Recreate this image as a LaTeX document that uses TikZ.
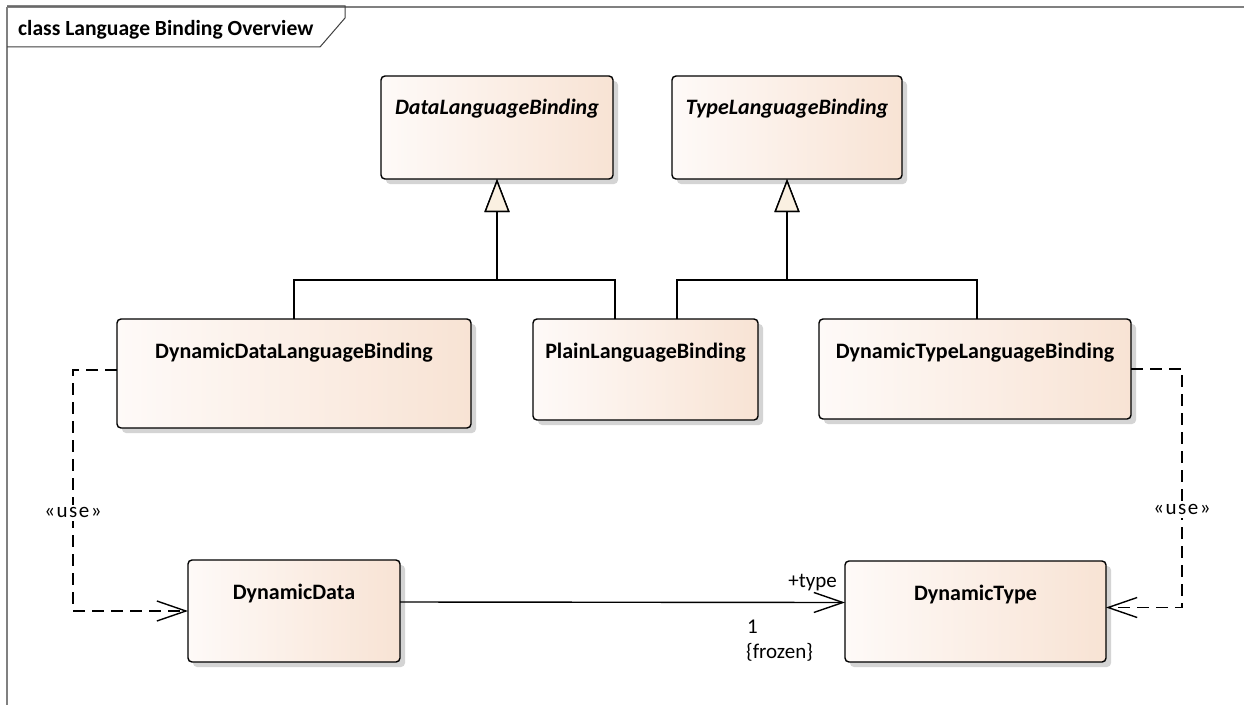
\documentclass[tikz,border=0pt]{standalone}
\usepackage{fontspec}
\setmainfont{Carlito}
\usetikzlibrary{arrows.meta,shadows,calc}
\definecolor{boxL}{HTML}{FEFAF8}
\definecolor{boxR}{HTML}{F8E3D4}
\definecolor{genfill}{HTML}{FAF0E1}
\definecolor{framegray}{HTML}{808080}
\begin{document}
\begin{tikzpicture}[x=1pt,y=-1pt,
  umlbox/.style={draw=black, line width=1.4pt, rounded corners=4pt,
    left color=boxL, right color=boxR, inner sep=0pt, outer sep=0pt,
    drop shadow={shadow xshift=5pt, shadow yshift=-5pt, fill=black!17, opacity=1}},
  boxtext/.style={anchor=base, inner sep=0pt, font=\fontsize{22}{26}\selectfont\bfseries},
  lbl/.style={inner sep=0pt, font=\fontsize{21}{25}\selectfont},
  gen/.style={line width=1.4pt, -{Triangle[length=33pt,width=25pt,fill=genfill]}},
  usedep/.style={line width=1.4pt, dash pattern=on 12pt off 7pt, -{Straight Barb[length=29pt,width=20pt]}},
  assoc/.style={line width=1.4pt, -{Straight Barb[length=29pt,width=20pt]}},
  framel/.style={draw=framegray, line width=2pt},
  titlel/.style={draw=black!75, line width=1pt}
]
\useasboundingbox (0,0) rectangle (1244,706);
\fill[white] (0,0) rectangle (1244,706);

% frame
\draw[framel] (7,7) -- (1244,7);
\draw[framel] (7,7) -- (7,705);
\draw[titlel] (7,6) -- (345,6) -- (345,18) -- (320,47) -- (7,47);
\node[anchor=base west, inner sep=0pt, font=\fontsize{21.6}{25}\selectfont\bfseries] (title) at (18,36) {class Language Binding Overview};

% boxes
\node[umlbox, minimum width=232pt, minimum height=103pt] (dlb) at (497,127.5) {};
\node[umlbox, minimum width=230pt, minimum height=103pt] (tlb) at (787,127.5) {};
\node[umlbox, minimum width=354pt, minimum height=109pt] (ddlb) at (294,373.5) {};
\node[umlbox, minimum width=225pt, minimum height=101pt] (plb) at (645.5,369.5) {};
\node[umlbox, minimum width=312pt, minimum height=100pt] (dtlb) at (975,369) {};
\node[umlbox, minimum width=212pt, minimum height=102pt] (dd) at (294,611) {};
\node[umlbox, minimum width=261pt, minimum height=101pt] (dt) at (975.5,611.5) {};

\node[boxtext] (tdlb) at ($(dlb.north)+(0,38)$) {\itshape DataLanguageBinding};
\node[boxtext] (ttlb) at ($(tlb.north)+(0,38)$) {\itshape TypeLanguageBinding};
\node[boxtext] (tddlb) at ($(ddlb.north)+(0,39)$) {DynamicDataLanguageBinding};
\node[boxtext] (tplb) at ($(plb.north)+(0,39)$) {PlainLanguageBinding};
\node[boxtext] (tdtlb) at ($(dtlb.north)+(0,39)$) {DynamicTypeLanguageBinding};
\node[boxtext] (tdd) at ($(dd.north)+(0,39)$) {DynamicData};
\node[boxtext] (tdt) at ($(dt.north)+(0,39)$) {DynamicType};

% generalizations
\draw[gen] (ddlb.north) |- ($(dlb.south)+(0,101)$) -- (dlb.south);
\draw[gen] ([xshift=-30.5pt]plb.north) |- ($(dlb.south)+(0,101)$) -- (dlb.south);
\draw[gen] ([xshift=31.5pt]plb.north) |- ($(tlb.south)+(0,101)$) -- (tlb.south);
\draw[gen] ([xshift=2pt]dtlb.north) |- ($(tlb.south)+(0,101)$) -- (tlb.south);

% use dependencies
\draw[usedep] ([yshift=3.5pt]ddlb.west) -- ++(-44,0) |- node[pos=0.296, lbl, fill=white, inner ysep=3pt] (use1) {\addfontfeature{LetterSpace=7}«use»} (dd.west);
\draw[usedep] (dtlb.east) -- ++(51,0) |- node[pos=0.295, lbl, fill=white, inner ysep=3pt] (use2) {\addfontfeature{LetterSpace=7}«use»} ([yshift=4pt]dt.east);

% association
\draw[assoc] ([yshift=9pt]dd.east) -- ([yshift=9pt]dt.west);
\node[lbl, anchor=base east] (ltype) at (837,587) {+type};
\node[lbl, anchor=base west] (lone) at (747,633) {1};
\node[lbl, anchor=base west] (lfrozen) at (746,658) {\{frozen\}};
\end{tikzpicture}
\end{document}
